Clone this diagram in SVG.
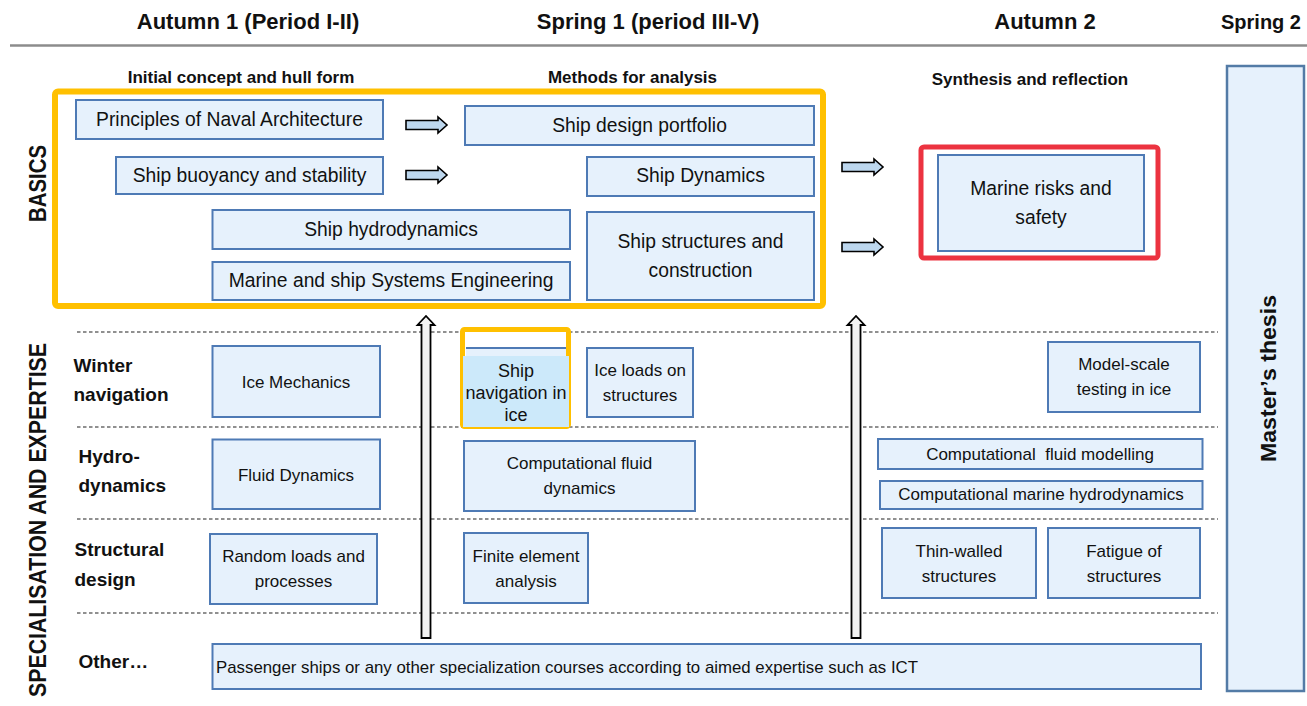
<svg xmlns="http://www.w3.org/2000/svg" width="1307" height="706" viewBox="0 0 1307 706">
<style>
text{font-family:"Liberation Sans",Arial,sans-serif;fill:#111}
.hdr{font-size:22px;font-weight:bold;text-anchor:middle}
.sub{font-size:17px;font-weight:bold;text-anchor:middle}
.row{font-size:19px;font-weight:bold}
.side{font-size:24px;font-weight:bold;text-anchor:middle}
.bx{fill:#E6F1FC;stroke:#4E7AB5;stroke-width:2}
.tb{font-size:19.3px;text-anchor:middle}
.ts{font-size:17px;text-anchor:middle}
.dash{stroke:#222;stroke-width:1.2;stroke-dasharray:3.5 2.5;fill:none}
.barr{fill:#BDD7EE;stroke:#000;stroke-width:1.6}
.varr{fill:#F2F2F2;stroke:#000;stroke-width:1.8}
</style>
<defs>
<path id="blk" d="M0,-4.5 H32 V-8 L41,0 L32,8 V4.5 H0 Z"/>
</defs>
<rect width="1307" height="706" fill="#fff"/>
<g id="headers">
<text class="hdr" x="248" y="29">Autumn 1 (Period I-II)</text>
<text class="hdr" x="648" y="29">Spring 1 (period III-V)</text>
<text class="hdr" x="1045" y="29">Autumn 2</text>
<text class="hdr" x="1261" y="29" style="font-size:20px">Spring 2</text>
<line x1="10" y1="45.5" x2="1307" y2="45.5" stroke="#8C8C8C" stroke-width="2.5"/>
<text class="sub" x="241" y="83">Initial concept and hull form</text>
<text class="sub" x="632.5" y="83">Methods for analysis</text>
<text class="sub" x="1030" y="85">Synthesis and reflection</text>
</g>
<g id="section-labels">
<text class="side" transform="translate(45.5,183.5) rotate(-90)" textLength="77" lengthAdjust="spacingAndGlyphs">BASICS</text>
<text class="side" transform="translate(45.5,520) rotate(-90)" textLength="354" lengthAdjust="spacingAndGlyphs">SPECIALISATION AND EXPERTISE</text>
<text class="row" x="73.5" y="372">Winter</text>
<text class="row" x="73.5" y="401">navigation</text>
<text class="row" x="78.5" y="463">Hydro-</text>
<text class="row" x="78.5" y="492">dynamics</text>
<text class="row" x="74.5" y="556">Structural</text>
<text class="row" x="74.5" y="586">design</text>
<text class="row" x="78.5" y="668">Other…</text>
</g>
<g id="dividers">
<line class="dash" x1="77" y1="332" x2="1218" y2="332"/>
<line class="dash" x1="77" y1="427" x2="1218" y2="427"/>
<line class="dash" x1="77" y1="519" x2="1218" y2="519"/>
<line class="dash" x1="77" y1="613" x2="1218" y2="613"/>
</g>
<g id="basics-frame">
<rect x="55" y="91.5" width="768" height="214.5" rx="3" fill="none" stroke="#FFC000" stroke-width="6"/>
</g>
<g id="n-principles"><rect class="bx" x="76" y="100" width="307" height="39"/><text class="tb" x="229.5" y="126">Principles of Naval Architecture</text></g>
<g id="n-buoyancy"><rect class="bx" x="116" y="157" width="267" height="37"/><text class="tb" x="249.5" y="182">Ship buoyancy and stability</text></g>
<g id="n-hydro"><rect class="bx" x="212.5" y="210" width="357.5" height="39"/><text class="tb" x="391" y="236">Ship hydrodynamics</text></g>
<g id="n-systems"><rect class="bx" x="212.5" y="262" width="357.5" height="38"/><text class="tb" x="391" y="287">Marine and ship Systems Engineering</text></g>
<g id="n-portfolio"><rect class="bx" x="465" y="106" width="349" height="39"/><text class="tb" x="639.5" y="132">Ship design portfolio</text></g>
<g id="n-dynamics"><rect class="bx" x="587" y="157" width="227" height="39"/><text class="tb" x="700.5" y="182">Ship Dynamics</text></g>
<g id="n-structures"><rect class="bx" x="587" y="212" width="227" height="88"/><text class="tb" x="700.5" y="248">Ship structures and</text><text class="tb" x="700.5" y="277">construction</text></g>
<g id="n-risks">
<rect x="921" y="147" width="237" height="111" rx="3" fill="none" stroke="#EC3340" stroke-width="5"/>
<rect class="bx" x="938" y="155" width="206" height="96"/><text class="tb" x="1041" y="195">Marine risks and</text><text class="tb" x="1041" y="224">safety</text></g>
<g id="n-ice-mech"><rect class="bx" x="212.5" y="346" width="167.5" height="71"/><text class="ts" x="296" y="388">Ice Mechanics</text></g>
<g id="n-ship-nav-ice">
<rect x="462.5" y="329.5" width="106" height="97" rx="2" fill="#fff" stroke="#FFC000" stroke-width="5"/>
<rect x="466" y="348" width="100" height="8" fill="#E6F1FC"/>
<line x1="466" y1="348" x2="566" y2="348" stroke="#4E7AB5" stroke-width="2"/>
<rect x="463" y="356" width="106" height="71" fill="#CCE9FA"/>
<text x="516" y="377" style="font-size:18px;text-anchor:middle">Ship</text>
<text x="516" y="399" style="font-size:18px;text-anchor:middle">navigation in</text>
<text x="516" y="421" style="font-size:18px;text-anchor:middle">ice</text>
</g>
<g id="n-ice-loads"><rect class="bx" x="587" y="348" width="106" height="69"/><text class="ts" x="640" y="376">Ice loads on</text><text class="ts" x="640" y="401">structures</text></g>
<g id="n-model-scale"><rect class="bx" x="1048" y="342" width="152" height="70"/><text class="ts" x="1124" y="370">Model-scale</text><text class="ts" x="1124" y="395">testing in ice</text></g>
<g id="n-fluid"><rect class="bx" x="212.5" y="439.5" width="167.5" height="69.5"/><text class="ts" x="296" y="481">Fluid Dynamics</text></g>
<g id="n-cfd"><rect class="bx" x="464" y="441" width="231" height="70"/><text class="ts" x="579.5" y="469">Computational fluid</text><text class="ts" x="579.5" y="494">dynamics</text></g>
<g id="n-cfm"><rect class="bx" x="878" y="439" width="324.5" height="30"/><text class="ts" x="1040" y="460" xml:space="preserve" style="white-space:pre">Computational  fluid modelling</text></g>
<g id="n-cmh"><rect class="bx" x="880" y="481" width="322.5" height="28"/><text class="ts" x="1041" y="500">Computational marine hydrodynamics</text></g>
<g id="n-random"><rect class="bx" x="210" y="534" width="167" height="70"/><text class="ts" x="293.5" y="562">Random loads and</text><text class="ts" x="293.5" y="587">processes</text></g>
<g id="n-fem"><rect class="bx" x="464" y="533" width="124" height="70"/><text class="ts" x="526" y="562">Finite element</text><text class="ts" x="526" y="587">analysis</text></g>
<g id="n-thin"><rect class="bx" x="882" y="528" width="154" height="70"/><text class="ts" x="959" y="557">Thin-walled</text><text class="ts" x="959" y="582">structures</text></g>
<g id="n-fatigue"><rect class="bx" x="1048" y="528" width="152" height="70"/><text class="ts" x="1124" y="557">Fatigue of</text><text class="ts" x="1124" y="582">structures</text></g>
<g id="n-other"><rect class="bx" x="212.5" y="644" width="988.5" height="45"/><text x="216" y="673" style="font-size:17px" textLength="702" lengthAdjust="spacingAndGlyphs">Passenger ships or any other specialization courses according to aimed expertise such as ICT</text></g>
<g id="n-thesis"><rect class="bx" x="1227" y="66" width="77" height="625" style="stroke:#537BA6;stroke-width:2.5"/><text transform="translate(1275.5,378.5) rotate(-90)" style="font-size:22px;font-weight:bold;text-anchor:middle" textLength="167" lengthAdjust="spacingAndGlyphs">Master’s thesis</text></g>
<g id="connectors">
<use href="#blk" class="barr" x="406" y="125"/>
<use href="#blk" class="barr" x="406" y="175"/>
<use href="#blk" class="barr" x="842" y="167"/>
<use href="#blk" class="barr" x="842" y="247"/>
<path class="varr" d="M421.5,638 V325 H417.5 L426,316 L434.5,325 H430.5 V638 Z"/>
<path class="varr" d="M851.5,638 V325 H847.5 L856,316 L864.5,325 H860.5 V638 Z"/>
</g>
</svg>
